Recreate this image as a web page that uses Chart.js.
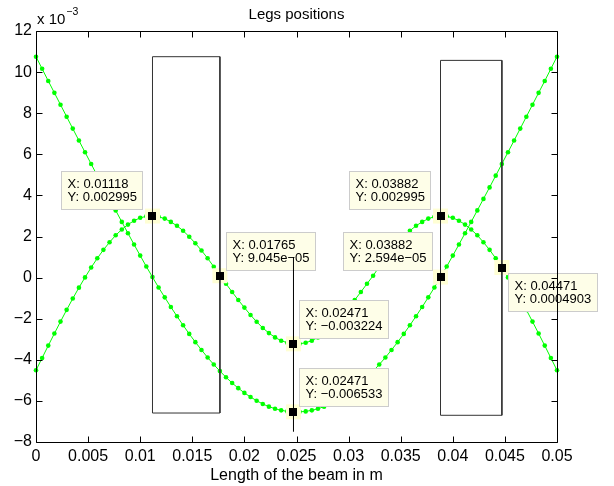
<!DOCTYPE html>
<html><head><meta charset="utf-8">
<script src="https://cdn.jsdelivr.net/npm/chart.js@4/dist/chart.umd.min.js"></script>
<style>html,body{margin:0;padding:0;background:#fff}#wrap{width:614px;height:486px}</style>
</head><body><div id="wrap"><canvas id="c" width="614" height="486"></canvas></div>
<script>
// ---- data (y values in units of 1e-3) ----
const beamX = [0,0.000588,0.001176,0.001765,0.002353,0.002941,0.003529,0.004118,0.004706,0.005294,
0.005882,0.006471,0.007059,0.007647,0.008235,0.008824,0.009412,0.010000,0.010588,0.011176,
0.011765,0.012353,0.012941,0.013529,0.014118,0.014706,0.015294,0.015882,0.016471,0.017059,
0.017647,0.018235,0.018824,0.019412,0.020000,0.020588,0.021176,0.021765,0.022353,0.022941,
0.023529,0.024118,0.024706,0.025294,0.025882,0.026471,0.027059,0.027647,0.028235,0.028824,
0.029412,0.030000,0.030588,0.031176,0.031765,0.032353,0.032941,0.033529,0.034118,0.034706,
0.035294,0.035882,0.036471,0.037059,0.037647,0.038235,0.038824,0.039412,0.040000,0.040588,
0.041176,0.041765,0.042353,0.042941,0.043529,0.044118,0.044706,0.045294,0.045882,0.046471,
0.047059,0.047647,0.048235,0.048824,0.049412,0.050000];
const curveA = [10.75,10.16,9.57,8.99,8.41,7.83,7.25,6.67,6.10,5.53,4.96,4.39,3.83,3.27,2.71,2.16,1.61,1.07,0.54,0.026,
-0.48,-0.96,-1.43,-1.88,-2.32,-2.74,-3.14,-3.52,-3.89,-4.23,-4.55,-4.85,-5.13,-5.38,-5.61,-5.81,-5.99,-6.15,-6.28,-6.38,-6.46,-6.51,-6.533,
-6.533,-6.51,-6.46,-6.38,-6.28,-6.15,-5.99,-5.81,-5.61,-5.38,-5.13,-4.85,-4.55,-4.23,-3.89,-3.52,-3.14,-2.74,-2.32,-1.88,-1.43,-0.96,-0.48,
0.02594,0.54,1.07,1.61,2.16,2.71,3.27,3.83,4.39,4.96,5.53,6.10,6.67,7.25,7.83,8.41,8.99,9.57,10.16,10.75];
const curveB = [-4.51,-3.91,-3.31,-2.72,-2.14,-1.57,-1.02,-0.49,0.01,0.4903,0.94,1.35,1.72,2.06,2.34,2.58,2.77,2.91,2.98,2.995,
2.96,2.87,2.71,2.52,2.28,1.99,1.67,1.32,0.94,0.53,0.09045,-0.30,-0.70,-1.09,-1.46,-1.82,-2.15,-2.45,-2.70,-2.91,-3.07,-3.17,-3.224,
-3.224,-3.17,-3.07,-2.91,-2.70,-2.45,-2.15,-1.82,-1.46,-1.09,-0.70,-0.30,0.09,0.53,0.94,1.32,1.67,1.99,2.28,2.52,2.71,2.87,2.96,
2.995,2.98,2.91,2.77,2.58,2.34,2.06,1.72,1.35,0.94,0.4903,0.01,-0.49,-1.02,-1.57,-2.14,-2.72,-3.31,-3.91,-4.51];
const xTickValues = [0,0.005,0.01,0.015,0.02,0.025,0.03,0.035,0.04,0.045,0.05];
const xTickLabels = ["0","0.005","0.01","0.015","0.02","0.025","0.03","0.035","0.04","0.045","0.05"];
const yTickValues = [-8,-6,-4,-2,0,2,4,6,8,10,12];
const yTickLabels = ["\u22128","\u22126","\u22124","\u22122","0","2","4","6","8","10","12"];
const legLeft = [0.01118, 0.03882];
const legRight = [0.01765, 0.04471];
const legTop = [10.75, 10.57];
const legBottom = [-6.59, -6.70];
const midLegX = [0.02471, 0.02471];
const midLegY = [-7.5, 1.0];
const tipX = [0.01118, 0.01765, 0.02471, 0.02471, 0.03882, 0.03882, 0.04471];
const tipY = [2.995, 0.09045, -3.224, -6.533, 2.995, 0.02594, 0.4903];
const tipTextX = ["X: 0.01118","X: 0.01765","X: 0.02471","X: 0.02471","X: 0.03882","X: 0.03882","X: 0.04471"];
const tipTextY = ["Y: 0.002995","Y: 9.045e\u221205","Y: \u22120.003224","Y: \u22120.006533","Y: 0.002995","Y: 2.594e\u221205","Y: 0.0004903"];

// ---- styling ----
const FONT = "'Liberation Sans', Arial, Helvetica, sans-serif";
const GREEN = '#00ff00';
const tipPlace = [['br',-10,-7],['bl',6,-6],['bl',6,-6],['bl',6,-6],['br',-11,-7],['br',-9,-7],['tl',6,5]];

function rectPts(i){
  return [{x:legLeft[i],y:legBottom[i]},{x:legLeft[i],y:legTop[i]},{x:legRight[i],y:legTop[i]},{x:legRight[i],y:legBottom[i]},{x:legLeft[i],y:legBottom[i]}];
}
const ptsA = beamX.map((x,i)=>({x, y:curveA[i]}));
const ptsB = beamX.map((x,i)=>({x, y:curveB[i]}));
const midPts = midLegX.map((x,i)=>({x, y:midLegY[i]}));

const legsPlugin = {
  id:'legs',
  afterDatasetDraw(chart, args){
    if(args.index!==3) return;
    const ctx=chart.ctx, xs=chart.scales.x, ys=chart.scales.y;
    ctx.save();
    ctx.font = '13px ' + FONT;
    for(let k=0;k<tipX.length;k++){
      const ax=xs.getPixelForValue(tipX[k]), ay=ys.getPixelForValue(tipY[k]);
      ctx.fillStyle='rgb(255,255,212)';
      ctx.fillRect(ax-7.5, ay-7.5, 15, 15);
      const w = Math.round(Math.max(ctx.measureText(tipTextX[k]).width, ctx.measureText(tipTextY[k]).width) + 12);
      const h = 38;
      const [c,dx,dy]=tipPlace[k];
      let bx = c[1]==='l' ? ax+dx : ax+dx-w;
      let by = c[0]==='t' ? ay+dy : ay+dy-h;
      bx=Math.round(bx)+0.5; by=Math.round(by)+0.5;
      ctx.fillStyle='rgb(254,254,232)'; ctx.fillRect(bx,by,w,h);
      ctx.strokeStyle='rgb(204,204,204)'; ctx.lineWidth=1; ctx.strokeRect(bx,by,w,h);
      ctx.fillStyle='#000'; ctx.textBaseline='middle'; ctx.textAlign='left';
      ctx.fillText(tipTextX[k], bx+6, by+12.5);
      ctx.fillText(tipTextY[k], bx+6, by+25.5);
    }
    ctx.restore();
  },
  afterDatasetsDraw(chart){
    const ctx=chart.ctx, xs=chart.scales.x, ys=chart.scales.y, a=chart.chartArea;
    ctx.save();
    ctx.fillStyle='#000';
    for(let k=0;k<tipX.length;k++){
      const ax=xs.getPixelForValue(tipX[k]), ay=ys.getPixelForValue(tipY[k]);
      ctx.fillRect(Math.round(ax-4), Math.round(ay-4), 8, 8);
    }
    const L=Math.round(a.left)+0.5, R=Math.round(a.right)+0.5, T=Math.round(a.top)+0.5, B=Math.round(a.bottom)+0.5;
    ctx.strokeStyle='#000'; ctx.lineWidth=1;
    ctx.beginPath();
    ctx.rect(L,T,R-L,B-T);
    xTickValues.forEach(v=>{ const p=Math.round(xs.getPixelForValue(v))+0.5; ctx.moveTo(p,B); ctx.lineTo(p,B-6); ctx.moveTo(p,T); ctx.lineTo(p,T+6); });
    yTickValues.forEach(v=>{ const p=Math.round(ys.getPixelForValue(v))+0.5; ctx.moveTo(L,p); ctx.lineTo(L+6,p); ctx.moveTo(R,p); ctx.lineTo(R-6,p); });
    ctx.stroke();
    // exponent label
    ctx.fillStyle='#000'; ctx.textBaseline='alphabetic'; ctx.textAlign='left';
    ctx.font='15px '+FONT;
    ctx.fillText('x 10', 37, 24);
    const wx = ctx.measureText('x 10').width;
    ctx.font='10.5px '+FONT;
    ctx.fillText('\u22123', 37+wx+1, 15);
    ctx.restore();
  }
};

new Chart(document.getElementById('c'), {
  type:'scatter',
  data:{datasets:[
    {data:midPts, showLine:true, borderColor:'#000', borderWidth:1, pointRadius:0, clip:false},
    {data:rectPts(0), showLine:true, borderColor:'#333', borderWidth:1, pointRadius:0, clip:false},
    {data:rectPts(1), showLine:true, borderColor:'#333', borderWidth:1, pointRadius:0, clip:false},
    {data:ptsA, showLine:true, borderColor:GREEN, borderWidth:1, pointRadius:2.3, pointBorderWidth:0, pointBackgroundColor:GREEN, clip:false},
    {data:ptsB, showLine:true, borderColor:GREEN, borderWidth:1, pointRadius:2.3, pointBorderWidth:0, pointBackgroundColor:GREEN, clip:false}
  ]},
  options:{
    responsive:false, animation:false, devicePixelRatio:1,
    layout:{padding:{left:0,right:57,top:0,bottom:0}},
    plugins:{
      legend:{display:false}, tooltip:{enabled:false},
      title:{display:true, text:'Legs positions', fullSize:false, color:'#000',
        font:{family:FONT,size:15,weight:'normal'}, padding:{top:6,bottom:7}}
    },
    scales:{
      x:{type:'linear', min:0, max:0.05, position:'bottom',
        afterFit(s){ s.height=44; },
        afterBuildTicks(s){ s.ticks = xTickValues.map(v=>({value:v})); },
        ticks:{callback:(v,i)=>xTickLabels[i], color:'#000', font:{family:FONT,size:16}, padding:5, maxRotation:0, autoSkip:false},
        grid:{display:false, drawTicks:false}, border:{display:false},
        title:{display:true, text:'Length of the beam in m', color:'#000', font:{family:FONT,size:16}, padding:{top:0,bottom:1}}
      },
      y:{type:'linear', min:-8, max:12,
        afterFit(s){ s.width=36; },
        afterBuildTicks(s){ s.ticks = yTickValues.map(v=>({value:v})); },
        ticks:{callback:(v,i)=>yTickLabels[i], color:'#000', font:{family:FONT,size:16}, padding:4},
        grid:{display:false, drawTicks:false}, border:{display:false}
      }
    }
  },
  plugins:[legsPlugin]
});
</script>
</body></html>
